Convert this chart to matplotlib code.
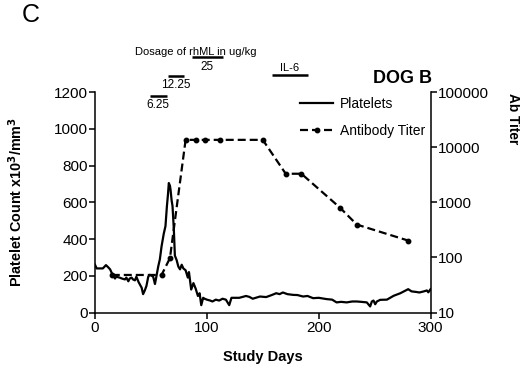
import numpy as np
import matplotlib
matplotlib.use('Agg')
import matplotlib.pyplot as plt
from matplotlib.lines import Line2D

plt.rcParams.update({
    'font.family': 'Liberation Sans',
    'font.size': 11,
    'axes.linewidth': 1.1,
    'xtick.major.width': 1.1,
    'ytick.major.width': 1.1,
    'xtick.major.size': 4,
    'ytick.major.size': 4,
})

# ── Data ──────────────────────────────────────────────────────────────────────
plt_days = [0, 1.5, 4, 7, 9.8, 12, 13.5, 15, 16, 17.9, 19, 22, 24, 26.8, 28,
            29.8, 31, 32.7, 34, 35.7, 37, 39, 41.7, 43, 44.5, 46, 47.6, 49,
            50.6, 52, 53.6, 55, 56.5, 58, 59.5, 61.5, 63, 64.3, 65.2, 66, 67,
            67.5, 68.5, 69.3, 70.5, 71.4, 73, 74.5, 76, 77.5, 79, 81, 83, 84,
            86, 88, 90, 92, 93.5, 95, 96.7, 98, 100, 103, 105, 108, 111, 114,
            117, 120, 122, 126, 129, 132, 135, 138, 141, 147.5, 153, 158, 162,
            165, 168, 172, 177, 181, 186, 190, 195, 200, 207, 212, 216, 220,
            225, 230, 234, 238, 243, 246, 247.5, 249, 250.5, 252, 255, 261,
            267, 273, 280, 283, 287, 290, 294, 296.7, 298, 300]
platelets = [260, 240, 240, 240, 258, 245, 235, 215, 205, 185, 195, 190, 185,
             180, 190, 170, 185, 190, 180, 175, 195, 165, 135, 100, 120, 145,
             195, 205, 200, 195, 155, 200, 250, 290, 360, 430, 470, 580, 640,
             705, 690, 670, 610, 580, 450, 310, 285, 250, 235, 260, 240, 230,
             190, 220, 125, 160, 130, 90, 105, 40, 80, 75, 70, 65, 60, 70, 65,
             75, 70, 40, 80, 80, 80, 85, 90, 85, 75, 87, 84, 95, 105, 100,
             109, 100, 96, 95, 87, 90, 78, 80, 73, 70, 55, 58, 55, 60, 60, 58,
             55, 33, 60, 65, 45, 60, 69, 70, 91, 105, 127, 115, 112, 109, 115,
             120, 110, 127]

titer_days = [15, 59.5, 67, 81, 90, 98, 112, 150, 170.5, 184.5, 219, 234, 280]
titer = [48, 48, 97, 13600, 13600, 13600, 13600, 13600, 3300, 3300, 800, 395,
         202]

# dosage bars: (label, start day, end day)
doses = [('6.25', 49, 64), ('12.25', 65, 79.5), ('25', 87, 114)]
dose_y = [1178, 1287, 1390]
il6_days = (158, 190)

# ── Figure ────────────────────────────────────────────────────────────────────
fig = plt.figure(figsize=(5.2, 3.67), dpi=100, facecolor='white')
ax = fig.add_axes([0.1827, 0.1485, 0.6453, 0.6005])
ax2 = ax.twinx()

ax.plot(plt_days, platelets, color='black', linewidth=1.6, zorder=3)
ax2.plot(titer_days, titer, color='black', linewidth=1.6,
         linestyle=(0, (3.6, 1.8)), marker='o', markersize=3.2, zorder=3)

ax.set_xlim(0, 300)
ax.set_ylim(0, 1200)
ax.set_xticks([0, 100, 200, 300])
ax.set_yticks(range(0, 1201, 200))
ax2.set_yscale('log')
ax2.set_ylim(10, 100000)
ax2.set_yticks([10, 100, 1000, 10000, 100000])
ax2.set_yticklabels(['10', '100', '1000', '10000', '100000'])
ax2.minorticks_off()
ax.tick_params(axis='x', pad=2, labelsize=11)
ax.tick_params(axis='y', pad=1, labelsize=11)
ax2.tick_params(axis='y', pad=1, labelsize=11)

for a in (ax, ax2):
    a.spines['top'].set_visible(False)
ax.spines['right'].set_visible(False)
ax2.spines['left'].set_visible(False)
ax2.spines['bottom'].set_visible(False)

ax.set_xlabel('Study Days', fontweight='bold', fontsize=10.5, labelpad=11)
ax.set_ylabel(r'Platelet Count x10$^\mathbf{3}$/mm$^\mathbf{3}$',
              fontweight='bold', fontsize=10.4, labelpad=21)
fig.text(513 / 520, 1 - 119 / 367, 'Ab Titer', rotation=270,
         fontweight='bold', fontsize=9.8, ha='center', va='center')

# dosage annotations
for (lab, d0, d1), yb in zip(doses, dose_y):
    ax.plot([d0, d1], [yb, yb], color='black', linewidth=1.8,
            clip_on=False, solid_capstyle='butt')
    ax.text((d0 + d1) / 2, yb - 18, lab, fontsize=8.5, ha='center',
            va='top', clip_on=False)
ax.text(90, 1417, 'Dosage of rhML in ug/kg', fontsize=8, ha='center',
        va='center', clip_on=False)
ax.plot(il6_days, [1292, 1292], color='black', linewidth=1.8,
        clip_on=False, solid_capstyle='butt')
ax.text(sum(il6_days) / 2, 1305, 'IL-6', fontsize=8, ha='center',
        va='bottom', clip_on=False)
ax.text(275, 1276, 'DOG B', fontsize=13, fontweight='bold', ha='center',
        va='center', clip_on=False)

fig.text(22 / 520, 1 - 15 / 367, 'C', fontsize=18, ha='left', va='center')

# legend
handles = [Line2D([], [], color='black', linewidth=1.6),
           Line2D([], [], color='black', linewidth=1.6,
                  linestyle=(0, (3.6, 1.8)), marker='o', markersize=3.2)]
fig.legend(handles, ['Platelets', 'Antibody Titer'], loc='upper left',
           bbox_to_anchor=(300 / 520, 1 - 97 / 367), frameon=False,
           fontsize=10, handlelength=2.4, handletextpad=0.45,
           labelspacing=0.9, borderpad=0, borderaxespad=0, numpoints=1)

fig.savefig('out.png', dpi=100, facecolor='white')
